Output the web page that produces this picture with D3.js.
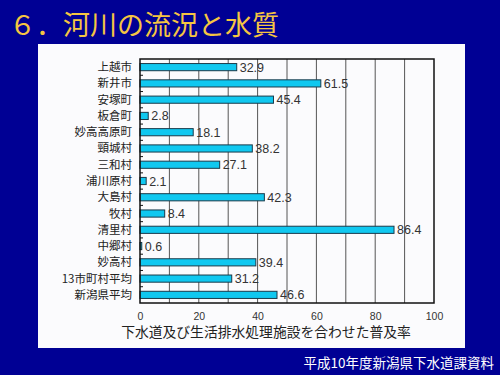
<!DOCTYPE html>
<html><head><meta charset="utf-8">
<script src="https://cdn.jsdelivr.net/npm/d3@7"></script>
<style>
html,body{margin:0;padding:0;background:#000094;}
svg{display:block;}
</style></head>
<body>
<script>
const categories = ["上越市","新井市","安塚町","板倉町","妙高高原町","頸城村","三和村","浦川原村","大島村","牧村","清里村","中郷村","妙高村","13市町村平均","新潟県平均"];
const values = [32.9,61.5,45.4,2.8,18.1,38.2,27.1,2.1,42.3,8.4,86.4,0.6,39.4,31.2,46.6];
const tickValues = [0,20,40,60,80,100];
const gridValues = [10,20,30,40,50,60,70,80,90];
const titleText = "６．河川の流況と水質";
const axisTitle = "下水道及び生活排水処理施設を合わせた普及率";
const sourceText = "平成10年度新潟県下水道課資料";

const W = 500, H = 375;
const svg = d3.select("body").append("svg").attr("width", W).attr("height", H);
svg.append("rect").attr("width", W).attr("height", H).attr("fill", "#000094");

const jp = "'Noto Sans CJK JP', sans-serif";
svg.append("text").attr("x", 9).attr("y", 35).text(titleText)
  .attr("font-family", jp).attr("font-size", 27).attr("fill", "#f5c542");

svg.append("rect").attr("x", 38).attr("y", 44).attr("width", 427).attr("height", 304).attr("fill", "#fbfbfd");

const x = d3.scaleLinear().domain([0, 100]).range([140, 434]);
const y = d3.scaleBand().domain(categories).range([59, 303]).paddingInner(0.56).paddingOuter(0.28);

const g = svg.append("g");
g.selectAll("line.grid").data(gridValues).join("line")
  .attr("x1", d => x(d)).attr("x2", d => x(d)).attr("y1", 59).attr("y2", 303)
  .attr("stroke", "#555").attr("stroke-width", 1);

g.selectAll("rect.bar").data(values).join("rect")
  .attr("x", x(0)).attr("y", (d, i) => y(categories[i]))
  .attr("width", d => x(d) - x(0)).attr("height", y.bandwidth())
  .attr("fill", "#10c8f0").attr("stroke", "#1a3a4a").attr("stroke-width", 1);

g.append("rect").attr("x", 140).attr("y", 59).attr("width", 294).attr("height", 244)
  .attr("fill", "none").attr("stroke", "#111").attr("stroke-width", 1.5);

g.selectAll("line.tk").data(d3.range(1, categories.length)).join("line")
  .attr("x1", 140).attr("x2", 143).attr("y1", d => 59 + d * 244 / categories.length).attr("y2", d => 59 + d * 244 / categories.length)
  .attr("stroke", "#111");

g.selectAll("text.cat").data(categories).join("text")
  .attr("x", 132).attr("y", d => y(d) + y.bandwidth() / 2 + 4)
  .attr("text-anchor", "end").attr("font-family", jp).attr("font-size", 11.5).attr("fill", "#222").text(d => d);

g.selectAll("text.val").data(values).join("text")
  .attr("x", d => x(d) + 3).attr("y", (d, i) => y(categories[i]) + y.bandwidth() / 2 + 4.5)
  .attr("font-family", "'Liberation Sans', Arial, sans-serif").attr("font-size", 12.5).attr("fill", "#333")
  .text(d => d.toFixed(1));

const xAxis = d3.axisBottom(x).tickValues(tickValues).tickSize(0).tickPadding(10);
const ax = svg.append("g").attr("transform", "translate(0,303)").call(xAxis);
ax.select(".domain").remove();
ax.selectAll("text").attr("font-family", "'Liberation Sans', Arial, sans-serif").attr("font-size", 10.5).attr("fill", "#333");

svg.append("text").attr("x", 266).attr("y", 337).attr("text-anchor", "middle")
  .attr("font-family", jp).attr("font-size", 13.8).attr("fill", "#222").text(axisTitle);

svg.append("text").attr("x", 494).attr("y", 368).attr("text-anchor", "end")
  .attr("font-family", jp).attr("font-size", 13.5).attr("fill", "#ffffff").text(sourceText);
</script>
</body></html>
